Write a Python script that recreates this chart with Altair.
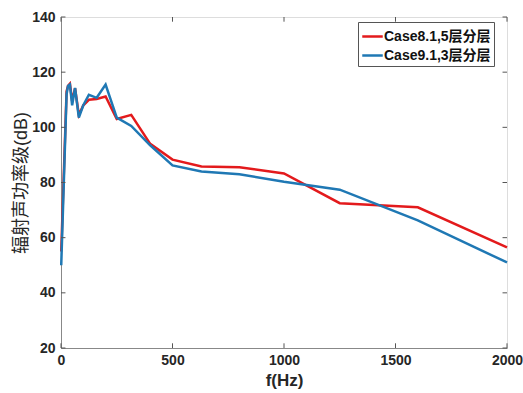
import altair as alt
import pandas as pd

freq = [1, 25, 31.5, 40, 50, 63, 80, 100, 125, 160, 200, 250, 315, 400, 500, 630, 800, 1000, 1250, 1600, 2000]
case8 = [55, 113, 115, 115.8, 109.5, 114.2, 104.5, 108, 110, 110.3, 111.2, 103, 104.5, 94, 88.3, 85.8, 85.5, 83.3, 72.5, 71, 56.5]
case9 = [50, 112, 115, 115.5, 108, 114.3, 103.5, 108, 111.8, 110.7, 115.5, 103.5, 100.5, 93.5, 86.2, 84, 83, 80.3, 77.4, 66.3, 51]
names = ["Case8.1,5层分层", "Case9.1,3层分层"]
colors = ["#E31A1C", "#1F78B4"]
xticks = [0, 500, 1000, 1500, 2000]
yticks = [20, 40, 60, 80, 100, 120, 140]

rows = []
for i, f in enumerate(freq):
    rows.append({"f": f, "v": case8[i], "s": names[0]})
    rows.append({"f": f, "v": case9[i], "s": names[1]})
df = pd.DataFrame(rows)

xs = alt.Scale(domain=[0, 2000], nice=False, zero=False)
ys = alt.Scale(domain=[20, 140], nice=False, zero=False)

lab = dict(labelFont="Liberation Sans", labelFontSize=14, labelFontWeight="bold", labelColor="#262626",
           titleFont="Liberation Sans, Noto Sans CJK SC", titleColor="#262626",
           domainColor="#888", grid=False, tickSize=0, format="d")

lines = alt.Chart(df).mark_line(strokeWidth=2.5).encode(
    x=alt.X("f:Q", scale=xs, axis=alt.Axis(values=xticks, title="f(Hz)", labelPadding=5, titlePadding=5,
                                          labelFlush=False, titleFontSize=17, titleFontWeight="bold", **lab)),
    y=alt.Y("v:Q", scale=ys, axis=alt.Axis(values=yticks, title="辐射声功率级(dB)", labelPadding=6,
                                          titlePadding=1, titleFontSize=18, titleFontWeight="normal", **lab)),
    color=alt.Color("s:N", scale=alt.Scale(domain=names, range=colors),
                    legend=alt.Legend(title=None, orient="none", legendX=297, legendY=5,
                                      symbolType="stroke", symbolStrokeWidth=2.5, symbolSize=420,
                                      strokeColor="#555", fillColor="white", padding=3,
                                      labelFont="Liberation Sans, Noto Sans CJK SC", labelFontSize=14,
                                      labelFontWeight="bold", labelColor="#111", rowPadding=0,
                                      symbolOffset=0, labelOffset=0)),
)

xt = pd.DataFrame({"tx": xticks, "b0": 20, "b1": 21.7, "t0": 140, "t1": 138.3})
yt = pd.DataFrame({"ty": yticks, "l0": 0, "l1": 20, "r0": 2000, "r1": 1980})
xb = alt.Chart(xt).mark_rule(color="#555", strokeWidth=1).encode(
    x=alt.X("tx:Q", scale=xs), y=alt.Y("b0:Q", scale=ys), y2="b1:Q")
xtop = alt.Chart(xt).mark_rule(color="#555", strokeWidth=1).encode(
    x=alt.X("tx:Q", scale=xs), y=alt.Y("t0:Q", scale=ys), y2="t1:Q")
yl = alt.Chart(yt).mark_rule(color="#555", strokeWidth=1).encode(
    y=alt.Y("ty:Q", scale=ys), x=alt.X("l0:Q", scale=xs), x2="l1:Q")
yr = alt.Chart(yt).mark_rule(color="#555", strokeWidth=1).encode(
    y=alt.Y("ty:Q", scale=ys), x=alt.X("r0:Q", scale=xs), x2="r1:Q")

chart = alt.layer(lines, xb, xtop, yl, yr).properties(
    width=446, height=331,
    autosize=alt.AutoSizeParams(type="none"),
    padding={"left": 61, "top": 17, "right": 16, "bottom": 45},
).configure_view(stroke="#888", strokeWidth=1).configure(background="white")

chart.save("out.html", embed_options={"renderer": "svg", "actions": False})
